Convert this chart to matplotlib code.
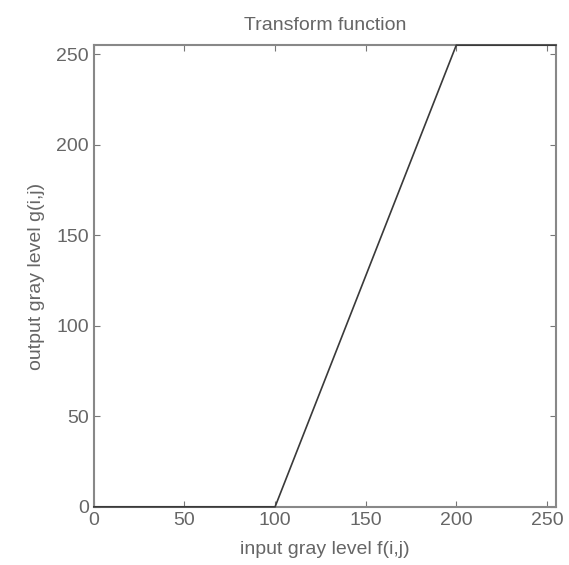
import matplotlib
matplotlib.use('Agg')
import matplotlib.pyplot as plt

# Piecewise linear transform: clip below 100, stretch to 200
input_levels = [0, 100, 200, 255]
output_levels = [0, 0, 255, 255]
ticks = [0, 50, 100, 150, 200, 250]

plt.rcParams['font.family'] = ['Liberation Sans', 'DejaVu Sans']

fig = plt.figure(figsize=(5.69, 5.65), dpi=100)
ax = fig.add_axes([0.165, 0.103, 0.812, 0.817])

ax.plot(input_levels, output_levels, color='#3a3a3a', linewidth=1.2,
        clip_on=False, zorder=3)

ax.set_xlim(0, 255)
ax.set_ylim(0, 255)
ax.set_xticks(ticks)
ax.set_yticks(ticks)

text_color = '#666666'
ax.tick_params(direction='in', top=True, right=True, length=4,
               colors='#777777', labelcolor=text_color, labelsize=14)
for s in ax.spines.values():
    s.set_color('#888888')
    s.set_linewidth(1.5)

ax.set_title('Transform function', color=text_color, fontsize=14, pad=11)
ax.set_xlabel('input gray level f(i,j)', color=text_color, fontsize=14, labelpad=9)
ax.set_ylabel('output gray level g(i,j)', color=text_color, fontsize=14, labelpad=8)

fig.savefig('out.png', dpi=100)
